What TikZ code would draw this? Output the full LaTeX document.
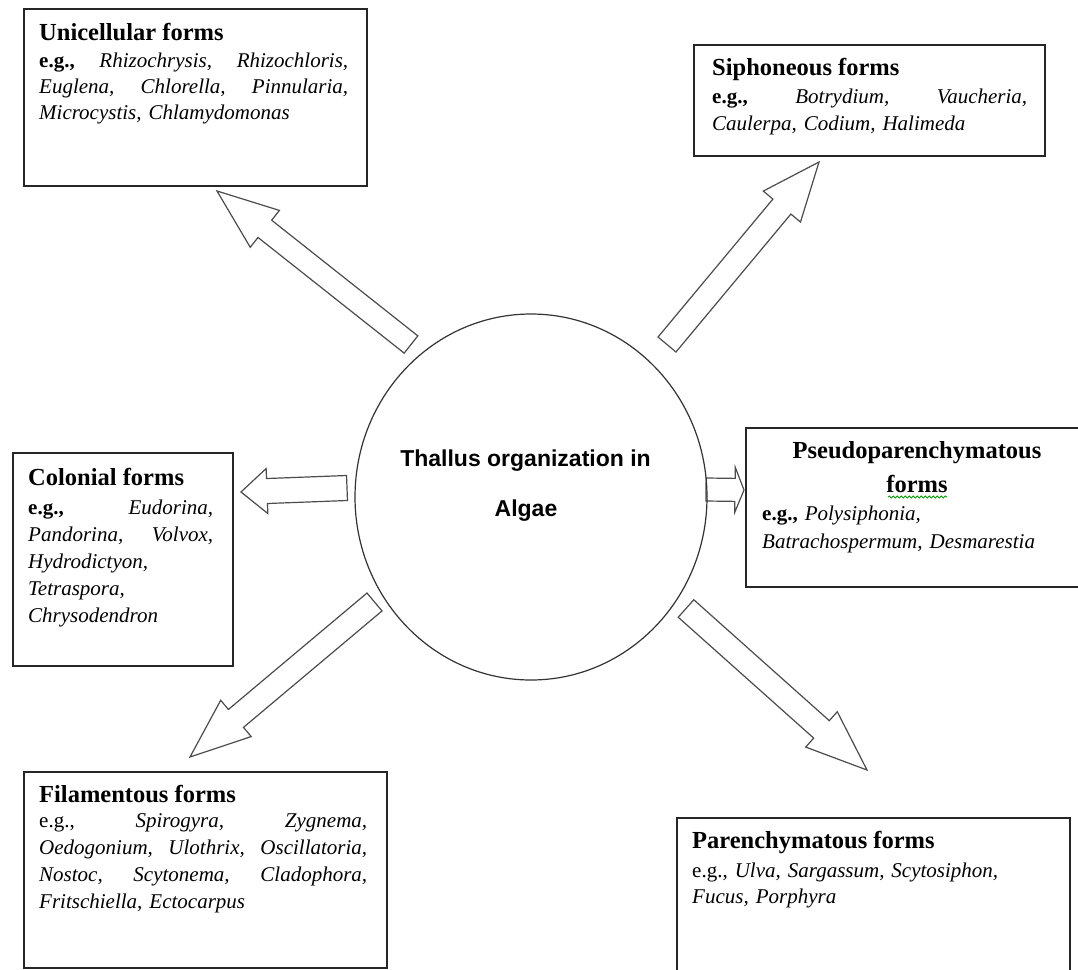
\documentclass[tikz,border=0pt]{standalone}
\usepackage{fontspec}
\setmainfont{Liberation Serif}
\newfontfamily\arialfont{Liberation Sans}
\usetikzlibrary{calc,shapes.geometric,decorations.pathmorphing}
% justified line: words separated by \hfill
\newcommand\jline[2]{\hbox to #1{#2}}
% #1 tail coordinate, #2 tip coordinate, #3 shaft half width, #4 head half width, #5 head length
\newcommand\blockarrow[5]{%
  \coordinate (#1-m) at ($(#2)!#5!(#1)$);
  \draw[blockarr] ($(#1)!#3!90:(#2)$) -- ($(#1-m)!#3!90:(#2)$) -- ($(#1-m)!#4!90:(#2)$) -- (#2)
     -- ($(#1-m)!#4!-90:(#2)$) -- ($(#1-m)!#3!-90:(#2)$) -- ($(#1)!#3!-90:(#2)$) -- cycle;}
\begin{document}
\begin{tikzpicture}[x=1pt,y=-1pt,
  box/.style={draw=black!85, line width=1.6pt, inner sep=0pt, anchor=north west},
  ttl/.style={font=\fontsize{24.5}{28}\selectfont\bfseries, inner sep=0pt, anchor=base west},
  body/.style={inner sep=0pt, anchor=base west, font=\fontsize{21}{26}\selectfont},
  blockarr/.style={draw=black!70, line width=1.2pt, fill=white, line join=miter},
  centre/.style={font=\arialfont\bfseries\fontsize{23}{26}\selectfont, inner sep=0pt, anchor=base}]
\useasboundingbox (0,0) rectangle (1078,969);
\fill[white] (0,0) rectangle (1078,969);

% boxes
\node[box, minimum width=343pt, minimum height=177pt] (uni) at (23,8) {};
\node[box, minimum width=351pt, minimum height=111pt] (siph) at (693,44) {};
\node[box, minimum width=220pt, minimum height=213pt] (col) at (12,452) {};
\node[box, minimum width=340pt, minimum height=159pt] (pseudo) at (745,427) {};
\node[box, minimum width=363pt, minimum height=196pt] (fil) at (23,771) {};
\node[box, minimum width=393pt, minimum height=175pt] (par) at (676,817) {};

% arrows
\coordinate (ua) at (411,344.5); \coordinate (ub) at (217,191);
\coordinate (sa) at (667,344.5); \coordinate (sb) at (819,162);
\coordinate (fa) at (374.5,602); \coordinate (fb) at (190,757);
\coordinate (pa) at (686,608.5); \coordinate (pb) at (867,770);
\coordinate (ca) at (347,488);   \coordinate (cb) at (241,492);
\coordinate (qa) at (706,489.5); \coordinate (qb) at (744,490);
\blockarrow{ua}{ub}{11pt}{23.5pt}{61pt}
\blockarrow{sa}{sb}{11.7pt}{24.2pt}{58pt}
\blockarrow{fa}{fb}{11.7pt}{23.7pt}{60pt}
\blockarrow{pa}{pb}{11.7pt}{23.7pt}{61pt}
\blockarrow{ca}{cb}{12.5pt}{22.5pt}{26pt}
\blockarrow{qa}{qb}{11.5pt}{22.5pt}{9pt}

% centre
\node[ellipse, draw=black!80, line width=1.2pt, minimum width=352pt, minimum height=366pt, inner sep=0pt] (c) at (531,497) {};
\node[centre] (ct1) at (525.5,466) {Thallus organization in};
\node[centre] (ct2) at (526,516) {Algae};

% Unicellular
\node[ttl] (unit) at (39,40) {Unicellular forms};
\node[body, text width=309pt] (unib) at (39,67) {%
  \jline{309pt}{\textbf{e.g.,}\hfill\textit{Rhizochrysis,}\hfill\textit{Rhizochloris,}}
  \jline{309pt}{\textit{Euglena,}\hfill\textit{Chlorella,}\hfill\textit{Pinnularia,}}
  \textit{Microcystis, Chlamydomonas}};

% Siphoneous
\node[ttl] (siphT) at (712,75) {Siphoneous forms};
\node[body, text width=315pt, font=\fontsize{21}{27}\selectfont] (siphb) at (712,103) {%
  \jline{315pt}{\textbf{e.g.,}\hfill\textit{Botrydium,}\hfill\textit{Vaucheria,}}
  \textit{Caulerpa, Codium, Halimeda}};

% Colonial
\node[ttl] (colt) at (28,485) {Colonial forms};
\node[body, text width=185pt, font=\fontsize{21}{27}\selectfont] (colb) at (28,514) {%
  \jline{185pt}{\textbf{e.g.,}\hfill\textit{Eudorina,}}
  \jline{185pt}{\textit{Pandorina,}\hfill\textit{Volvox,}}
  \textit{Hydrodictyon,}\par
  \textit{Tetraspora,}\par
  \textit{Chrysodendron}};

% Pseudoparenchymatous
\node[ttl, anchor=base] (pst1) at (917,458) {Pseudoparenchymatous};
\node[ttl, anchor=base] (pst2) at (917,492) {forms};
\coordinate (wv1) at (888,497); \coordinate (wv2) at (947,497);
\draw[green!60!black, line width=0.8pt, decorate, decoration={snake, amplitude=1.1pt, segment length=4pt}] (wv1) -- (wv2);
\node[body, text width=300pt, font=\fontsize{21}{28}\selectfont] (psb) at (762,520) {%
  \textbf{e.g.,} \textit{Polysiphonia,}\par
  \textit{Batrachospermum, Desmarestia}};

% Filamentous
\node[ttl] (filt) at (39,802) {Filamentous forms};
\node[body, text width=328pt, font=\fontsize{21}{27}\selectfont] (filb) at (39,827) {%
  \jline{328pt}{e.g.,\hfill\textit{Spirogyra,}\hfill\textit{Zygnema,}}
  \jline{328pt}{\textit{Oedogonium,}\hfill\textit{Ulothrix,}\hfill\textit{Oscillatoria,}}
  \jline{328pt}{\textit{Nostoc,}\hfill\textit{Scytonema,}\hfill\textit{Cladophora,}}
  \textit{Fritschiella, Ectocarpus}};

% Parenchymatous
\node[ttl] (part) at (692,848) {Parenchymatous forms};
\node[body, text width=360pt] (parb) at (692,877) {%
  e.g., \textit{Ulva, Sargassum, Scytosiphon,}\par
  \textit{Fucus, Porphyra}};
\end{tikzpicture}
\end{document}
